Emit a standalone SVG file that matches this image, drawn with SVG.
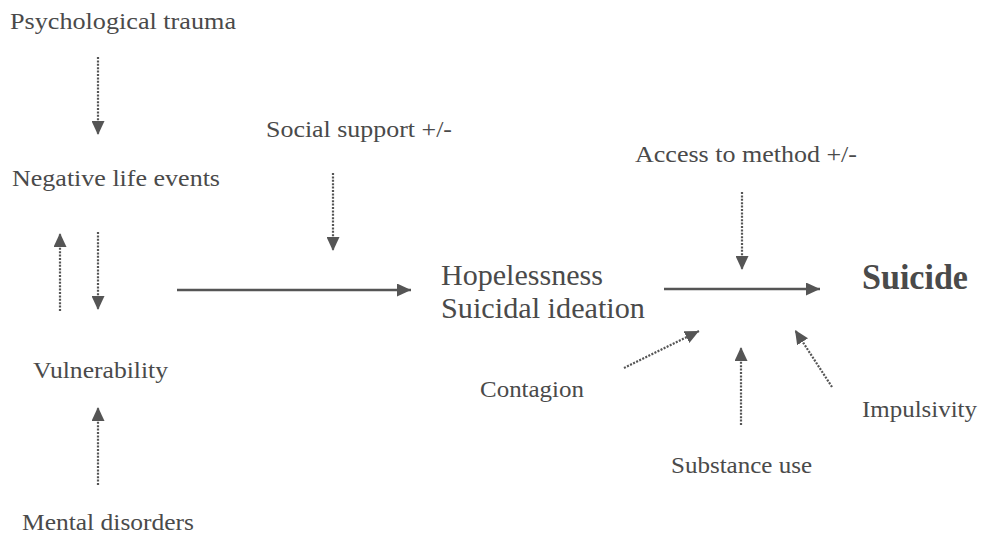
<svg xmlns="http://www.w3.org/2000/svg" width="995" height="539" viewBox="0 0 995 539">
<style>
text{font-family:"Liberation Serif","Times New Roman",serif;fill:#4a4a4a;font-size:24px}
.big{font-size:29px}
.bold{font-size:35px;font-weight:bold}
.dot{stroke:#555;stroke-width:2.2;stroke-dasharray:2 1.4;fill:none}
.solid{stroke:#555;stroke-width:2.4;fill:none}
</style>
<defs>
<marker id="ah" markerUnits="userSpaceOnUse" markerWidth="15" markerHeight="13" refX="14" refY="6.5" orient="auto">
<path d="M0,0 L14,6.5 L0,13 z" fill="#555"/>
</marker>
</defs>
<g id="psychological-trauma"><text x="10" y="29" textLength="226" lengthAdjust="spacingAndGlyphs">Psychological trauma</text></g>
<g id="negative-life-events"><text x="12" y="186" textLength="208" lengthAdjust="spacingAndGlyphs">Negative life events</text></g>
<g id="vulnerability"><text x="33" y="378" textLength="135" lengthAdjust="spacingAndGlyphs">Vulnerability</text></g>
<g id="mental-disorders"><text x="22" y="530" textLength="172" lengthAdjust="spacingAndGlyphs">Mental disorders</text></g>
<g id="social-support"><text x="266" y="137" textLength="186" lengthAdjust="spacingAndGlyphs">Social support +/-</text></g>
<g id="hopelessness"><text class="big" x="441" y="285" textLength="162" lengthAdjust="spacingAndGlyphs">Hopelessness</text><text class="big" x="441" y="318" textLength="204" lengthAdjust="spacingAndGlyphs">Suicidal ideation</text></g>
<g id="access-to-method"><text x="635" y="162" textLength="222" lengthAdjust="spacingAndGlyphs">Access to method +/-</text></g>
<g id="suicide"><text class="bold" x="862" y="289" textLength="106" lengthAdjust="spacingAndGlyphs">Suicide</text></g>
<g id="contagion"><text x="480" y="397" textLength="104" lengthAdjust="spacingAndGlyphs">Contagion</text></g>
<g id="substance-use"><text x="671" y="473" textLength="141" lengthAdjust="spacingAndGlyphs">Substance use</text></g>
<g id="impulsivity"><text x="862" y="417" textLength="115" lengthAdjust="spacingAndGlyphs">Impulsivity</text></g>
<g id="connectors">
<line class="dot" x1="98" y1="57" x2="98" y2="135" marker-end="url(#ah)"/>
<line class="dot" x1="60" y1="311" x2="60" y2="233" marker-end="url(#ah)"/>
<line class="dot" x1="98" y1="232" x2="98" y2="310" marker-end="url(#ah)"/>
<line class="dot" x1="98" y1="485" x2="98" y2="407" marker-end="url(#ah)"/>
<line class="solid" x1="177" y1="290" x2="411" y2="290" marker-end="url(#ah)"/>
<line class="dot" x1="333" y1="173" x2="333" y2="251" marker-end="url(#ah)"/>
<line class="dot" x1="742" y1="192" x2="742" y2="270" marker-end="url(#ah)"/>
<line class="solid" x1="664" y1="289" x2="820" y2="289" marker-end="url(#ah)"/>
<line class="dot" x1="624" y1="368" x2="699" y2="331" marker-end="url(#ah)"/>
<line class="dot" x1="741" y1="425" x2="741" y2="347" marker-end="url(#ah)"/>
<line class="dot" x1="832" y1="387" x2="795" y2="330" marker-end="url(#ah)"/>
</g>
</svg>
